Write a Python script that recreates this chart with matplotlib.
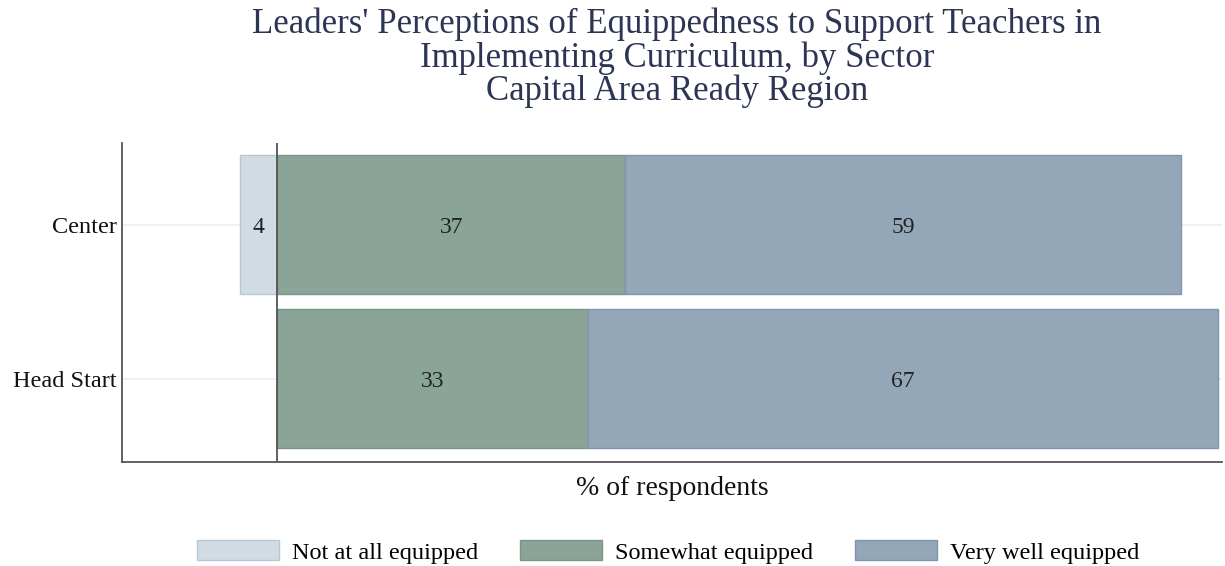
import numpy as np
import matplotlib.pyplot as plt

# data
sectors = ["Center", "Head Start"]
not_at_all = [4, 0]
somewhat = [37, 33]
very_well = [59, 67]
legend_labels = ["Not at all equipped", "Somewhat equipped", "Very well equipped"]

colors = ["#d0dbe4", "#8aa598", "#94a7b9"]
edges = ["#b9c7d3", "#7a9588", "#8196aa"]

plt.rcParams["font.family"] = ["Liberation Serif", "DejaVu Serif"]

fig = plt.figure(figsize=(12.25, 5.66), dpi=100)
ax = fig.add_axes([122 / 1225, 1 - 462 / 566, (1222 - 122) / 1225, (462 - 143) / 566])

y = np.arange(len(sectors))
na = np.array(not_at_all)
sw = np.array(somewhat)
vw = np.array(very_well)

h = 0.9
b1 = ax.barh(y, -na, height=h, color=colors[0], edgecolor=edges[0], linewidth=1, label=legend_labels[0], zorder=2)
b2 = ax.barh(y, sw, height=h, color=colors[1], edgecolor=edges[1], linewidth=1, label=legend_labels[1], zorder=2)
b3 = ax.barh(y, vw, left=sw, height=h, color=colors[2], edgecolor=edges[2], linewidth=1, label=legend_labels[2], zorder=2)

# value labels inside each segment
for bars, vals in [(b1, na), (b2, sw), (b3, vw)]:
    for rect, v in zip(bars, vals):
        if v <= 0:
            continue
        cx = rect.get_x() + rect.get_width() / 2
        ax.text(cx, rect.get_y() + rect.get_height() / 2, f"{v}", ha="center", va="center_baseline",
                fontsize=17, color="#222222", zorder=3)

ax.set_xlim(-16.5, 100.4)
ax.set_ylim(1.54, -0.53)
ax.axvline(0, color="#555555", linewidth=1.3, zorder=4)
for yy in y:
    ax.axhline(yy, color="#e9eff3", linewidth=1.2, zorder=1)

ax.set_yticks(y)
ax.set_yticklabels(sectors, fontsize=17.5, color="#111111")
ax.tick_params(axis="y", length=0, pad=4)
ax.set_xticks([])
for s in ["top", "right"]:
    ax.spines[s].set_visible(False)
for s in ["left", "bottom"]:
    ax.spines[s].set_color("#555555")
    ax.spines[s].set_linewidth(1.3)

ax.set_xlabel("% of respondents", fontsize=20, color="#111111", labelpad=10)

fig.text(677 / 1225, 1 - 58 / 566,
         "Leaders' Perceptions of Equippedness to Support Teachers in\n"
         "Implementing Curriculum, by Sector\nCapital Area Ready Region",
         ha="center", va="center", fontsize=25, color="#2c3553", linespacing=1.0)

fig.legend(handles=[b1, b2, b3], labels=legend_labels, loc="center", ncol=3,
           bbox_to_anchor=(668 / 1225, 1 - 552 / 566), frameon=False, fontsize=17.5,
           handlelength=3.4, handleheight=0.9, columnspacing=1.7, handletextpad=0.53)

fig.savefig("out.png", dpi=100)
